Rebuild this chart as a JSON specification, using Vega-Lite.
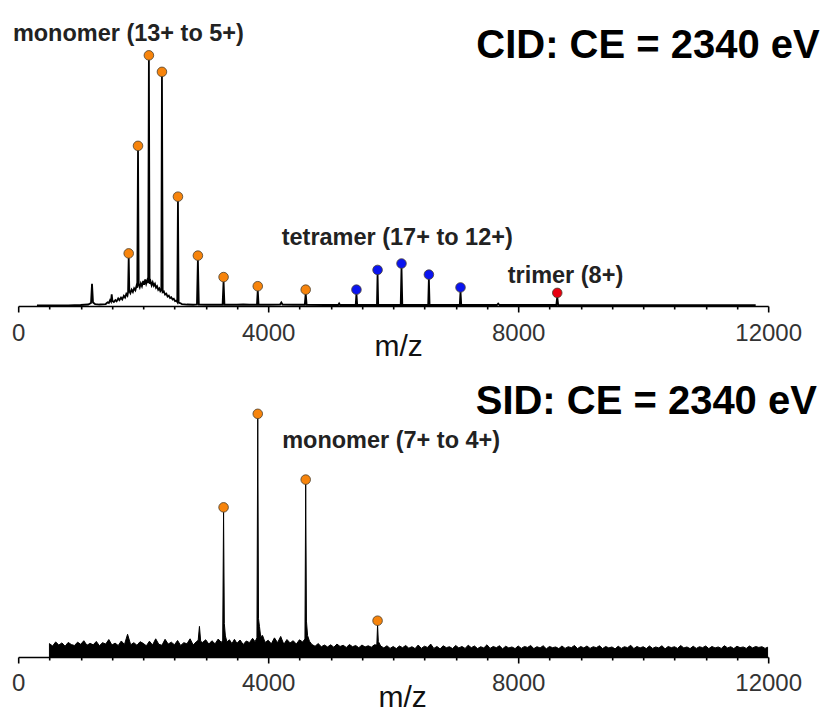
{
  "$schema": "https://vega.github.io/schema/vega-lite/v6.json",
  "padding": {"left": 11.2, "top": 10, "right": 2, "bottom": 0},
  "spacing": 9,
  "config": {
    "view": {"stroke": null},
    "font": "Liberation Sans",
    "axisX": {
      "values": [0, 2000, 4000, 6000, 8000, 10000, 12000],
      "format": "d",
      "labelExpr": "datum.value % 4000 === 0 ? datum.label : ''",
      "tickSize": {"condition": {"test": "datum.value % 4000 === 0", "value": 6}, "value": 3},
      "labelFontSize": 24,
      "labelFont": "Liberation Sans",
      "labelColor": "#333333",
      "labelPadding": 9,
      "labelFlush": false,
      "labelOverlap": false,
      "domainColor": "#000000",
      "domainWidth": 1.6,
      "tickColor": "#000000",
      "tickWidth": 1.6,
      "grid": false,
      "titleFontSize": 30,
      "titleFontWeight": "normal",
      "titleColor": "#111111",
      "titleBaseline": "alphabetic"
    }
  },
  "datasets": {
    "cidSpec": [
      {"mz": 300, "i": 0.2}, {"mz": 800, "i": 0.2}, {"mz": 1000, "i": 0.4}, {"mz": 1120, "i": 0.6},
      {"mz": 1165, "i": 1.2}, {"mz": 1181, "i": 9.0}, {"mz": 1197, "i": 1.4}, {"mz": 1230, "i": 0.8},
      {"mz": 1300, "i": 0.6}, {"mz": 1400, "i": 0.8}, {"mz": 1430, "i": 1.5}, {"mz": 1450, "i": 1.2},
      {"mz": 1470, "i": 2.4}, {"mz": 1485, "i": 1.8}, {"mz": 1496, "i": 4.7}, {"mz": 1508, "i": 2.0},
      {"mz": 1530, "i": 1.6}, {"mz": 1555, "i": 2.4}, {"mz": 1575, "i": 1.9}, {"mz": 1600, "i": 3.1},
      {"mz": 1620, "i": 2.4}, {"mz": 1645, "i": 3.4}, {"mz": 1665, "i": 2.7}, {"mz": 1690, "i": 4.1},
      {"mz": 1710, "i": 3.4}, {"mz": 1730, "i": 4.9}, {"mz": 1748, "i": 4.2}, {"mz": 1758, "i": 5.6},
      {"mz": 1768, "i": 19.7}, {"mz": 1778, "i": 6.1}, {"mz": 1795, "i": 5.2}, {"mz": 1815, "i": 6.6},
      {"mz": 1835, "i": 5.7}, {"mz": 1855, "i": 7.2}, {"mz": 1875, "i": 6.4}, {"mz": 1893, "i": 8.2},
      {"mz": 1905, "i": 7.4}, {"mz": 1917, "i": 63.3}, {"mz": 1928, "i": 8.8}, {"mz": 1945, "i": 7.6},
      {"mz": 1962, "i": 9.2}, {"mz": 1980, "i": 8.0}, {"mz": 2000, "i": 10.2}, {"mz": 2015, "i": 8.6},
      {"mz": 2032, "i": 10.8}, {"mz": 2048, "i": 9.0}, {"mz": 2065, "i": 10.4}, {"mz": 2080, "i": 9.4},
      {"mz": 2091, "i": 100}, {"mz": 2102, "i": 9.0}, {"mz": 2118, "i": 10.0}, {"mz": 2135, "i": 8.4},
      {"mz": 2152, "i": 9.6}, {"mz": 2170, "i": 8.2}, {"mz": 2188, "i": 9.0}, {"mz": 2205, "i": 7.4},
      {"mz": 2222, "i": 8.0}, {"mz": 2240, "i": 6.6}, {"mz": 2258, "i": 7.2}, {"mz": 2275, "i": 6.0},
      {"mz": 2290, "i": 6.4}, {"mz": 2300, "i": 93.3}, {"mz": 2312, "i": 5.6}, {"mz": 2330, "i": 5.9},
      {"mz": 2350, "i": 4.6}, {"mz": 2370, "i": 5.0}, {"mz": 2390, "i": 3.8}, {"mz": 2410, "i": 4.2},
      {"mz": 2430, "i": 3.2}, {"mz": 2450, "i": 3.5}, {"mz": 2470, "i": 2.6}, {"mz": 2490, "i": 2.9},
      {"mz": 2510, "i": 2.0}, {"mz": 2530, "i": 2.2}, {"mz": 2545, "i": 1.6}, {"mz": 2556, "i": 42.7},
      {"mz": 2567, "i": 1.4}, {"mz": 2590, "i": 1.2}, {"mz": 2620, "i": 0.8},
      {"mz": 2700, "i": 0.6}, {"mz": 2800, "i": 0.5}, {"mz": 2860, "i": 0.6}, {"mz": 2875, "i": 18.8},
      {"mz": 2890, "i": 0.6}, {"mz": 3000, "i": 0.5}, {"mz": 3100, "i": 0.5}, {"mz": 3270, "i": 0.5},
      {"mz": 3286, "i": 10.1}, {"mz": 3300, "i": 0.5}, {"mz": 3500, "i": 0.5}, {"mz": 3600, "i": 0.6},
      {"mz": 3700, "i": 0.5}, {"mz": 3820, "i": 0.5}, {"mz": 3833, "i": 6.4}, {"mz": 3846, "i": 0.5},
      {"mz": 4000, "i": 0.5}, {"mz": 4190, "i": 0.6}, {"mz": 4210, "i": 1.4}, {"mz": 4230, "i": 0.6},
      {"mz": 4400, "i": 0.5}, {"mz": 4585, "i": 0.5}, {"mz": 4600, "i": 5.0}, {"mz": 4615, "i": 0.5},
      {"mz": 4900, "i": 0.4}, {"mz": 5120, "i": 0.4}, {"mz": 5135, "i": 1.0}, {"mz": 5150, "i": 0.4},
      {"mz": 5400, "i": 0.4}, {"mz": 5412, "i": 5.0}, {"mz": 5424, "i": 0.4}, {"mz": 5740, "i": 0.4},
      {"mz": 5750, "i": 13.0}, {"mz": 5760, "i": 0.4}, {"mz": 6120, "i": 0.4}, {"mz": 6133, "i": 15.6},
      {"mz": 6146, "i": 0.4}, {"mz": 6560, "i": 0.4}, {"mz": 6571, "i": 11.1}, {"mz": 6582, "i": 0.4},
      {"mz": 7065, "i": 0.4}, {"mz": 7077, "i": 5.9}, {"mz": 7089, "i": 0.4}, {"mz": 7660, "i": 0.4},
      {"mz": 7680, "i": 1.0}, {"mz": 7700, "i": 0.4}, {"mz": 8610, "i": 0.4}, {"mz": 8625, "i": 3.7},
      {"mz": 8640, "i": 0.4}, {"mz": 9000, "i": 0.3}, {"mz": 11800, "i": 0.3}
    ],
    "cidPeaks": [
      {"mz": 1768, "i": 19.7, "species": "monomer"}, {"mz": 1917, "i": 63.3, "species": "monomer"},
      {"mz": 2091, "i": 100, "species": "monomer"}, {"mz": 2300, "i": 93.3, "species": "monomer"},
      {"mz": 2556, "i": 42.7, "species": "monomer"}, {"mz": 2875, "i": 18.8, "species": "monomer"},
      {"mz": 3286, "i": 10.1, "species": "monomer"}, {"mz": 3833, "i": 6.4, "species": "monomer"},
      {"mz": 4600, "i": 5.0, "species": "monomer"},
      {"mz": 5412, "i": 5.0, "species": "tetramer"}, {"mz": 5750, "i": 13.0, "species": "tetramer"},
      {"mz": 6133, "i": 15.6, "species": "tetramer"}, {"mz": 6571, "i": 11.1, "species": "tetramer"},
      {"mz": 7077, "i": 5.9, "species": "tetramer"},
      {"mz": 8625, "i": 3.7, "species": "trimer"}
    ],
    "sidSpec": [
      {"mz": 500, "i": 5.6}, {"mz": 550, "i": 4.6}, {"mz": 600, "i": 6.3}, {"mz": 650, "i": 5.0}, {"mz": 700, "i": 5.9},
      {"mz": 750, "i": 4.5}, {"mz": 800, "i": 6.1}, {"mz": 850, "i": 5.2}, {"mz": 900, "i": 4.8}, {"mz": 950, "i": 6.2},
      {"mz": 1000, "i": 5.3}, {"mz": 1050, "i": 6.8}, {"mz": 1100, "i": 4.9}, {"mz": 1150, "i": 5.7}, {"mz": 1200, "i": 5.1},
      {"mz": 1250, "i": 6.5}, {"mz": 1300, "i": 4.7}, {"mz": 1350, "i": 6.0}, {"mz": 1400, "i": 5.4}, {"mz": 1450, "i": 7.3},
      {"mz": 1500, "i": 5.0}, {"mz": 1550, "i": 5.8}, {"mz": 1600, "i": 4.8}, {"mz": 1650, "i": 6.7}, {"mz": 1700, "i": 5.2},
      {"mz": 1750, "i": 9.5}, {"mz": 1800, "i": 5.1}, {"mz": 1850, "i": 6.0}, {"mz": 1900, "i": 4.9}, {"mz": 1950, "i": 6.4},
      {"mz": 2000, "i": 5.7}, {"mz": 2050, "i": 4.7}, {"mz": 2100, "i": 6.6}, {"mz": 2150, "i": 5.0}, {"mz": 2200, "i": 7.6},
      {"mz": 2250, "i": 5.3}, {"mz": 2300, "i": 4.9}, {"mz": 2350, "i": 7.4}, {"mz": 2400, "i": 5.4}, {"mz": 2450, "i": 6.2},
      {"mz": 2500, "i": 5.1}, {"mz": 2550, "i": 6.9}, {"mz": 2600, "i": 4.8}, {"mz": 2650, "i": 6.0}, {"mz": 2700, "i": 5.5},
      {"mz": 2750, "i": 7.6}, {"mz": 2800, "i": 5.0}, {"mz": 2850, "i": 6.4}, {"mz": 2880, "i": 7.0}, {"mz": 2900, "i": 12.8},
      {"mz": 2920, "i": 6.5}, {"mz": 2950, "i": 6.1}, {"mz": 3000, "i": 7.2}, {"mz": 3050, "i": 5.4}, {"mz": 3100, "i": 6.8},
      {"mz": 3150, "i": 5.5}, {"mz": 3200, "i": 7.5}, {"mz": 3250, "i": 6.1}, {"mz": 3272, "i": 7.0}, {"mz": 3286, "i": 60.9},
      {"mz": 3298, "i": 14.0}, {"mz": 3315, "i": 8.8}, {"mz": 3340, "i": 6.3}, {"mz": 3380, "i": 7.2}, {"mz": 3420, "i": 5.6},
      {"mz": 3460, "i": 7.4}, {"mz": 3500, "i": 5.7}, {"mz": 3550, "i": 7.1}, {"mz": 3600, "i": 5.2}, {"mz": 3650, "i": 6.7},
      {"mz": 3700, "i": 6.0}, {"mz": 3750, "i": 7.8}, {"mz": 3790, "i": 6.4}, {"mz": 3820, "i": 8.0}, {"mz": 3833, "i": 100},
      {"mz": 3845, "i": 16.0}, {"mz": 3860, "i": 12.8}, {"mz": 3880, "i": 8.5}, {"mz": 3910, "i": 9.0}, {"mz": 3950, "i": 6.1},
      {"mz": 4000, "i": 7.0}, {"mz": 4050, "i": 5.5}, {"mz": 4100, "i": 8.0}, {"mz": 4150, "i": 6.0}, {"mz": 4200, "i": 8.6},
      {"mz": 4250, "i": 5.3}, {"mz": 4300, "i": 7.3}, {"mz": 4350, "i": 5.9}, {"mz": 4400, "i": 6.8}, {"mz": 4450, "i": 5.4},
      {"mz": 4500, "i": 7.2}, {"mz": 4550, "i": 6.3}, {"mz": 4588, "i": 7.5}, {"mz": 4600, "i": 72.5}, {"mz": 4612, "i": 15.0},
      {"mz": 4630, "i": 9.0}, {"mz": 4660, "i": 6.6}, {"mz": 4700, "i": 5.2}, {"mz": 4750, "i": 4.5}, {"mz": 4800, "i": 5.6},
      {"mz": 4850, "i": 4.3}, {"mz": 4900, "i": 5.0}, {"mz": 4950, "i": 4.2}, {"mz": 5000, "i": 5.1}, {"mz": 5050, "i": 4.1},
      {"mz": 5100, "i": 5.4}, {"mz": 5150, "i": 4.4}, {"mz": 5200, "i": 4.9}, {"mz": 5250, "i": 4.0}, {"mz": 5300, "i": 5.2},
      {"mz": 5350, "i": 4.3}, {"mz": 5400, "i": 4.8}, {"mz": 5450, "i": 3.9}, {"mz": 5500, "i": 5.0}, {"mz": 5550, "i": 4.2},
      {"mz": 5600, "i": 4.7}, {"mz": 5650, "i": 4.1}, {"mz": 5700, "i": 5.1}, {"mz": 5738, "i": 5.0}, {"mz": 5750, "i": 13.5},
      {"mz": 5762, "i": 6.5}, {"mz": 5800, "i": 4.6}, {"mz": 5850, "i": 3.8}, {"mz": 5900, "i": 4.7}, {"mz": 5950, "i": 3.6},
      {"mz": 6000, "i": 4.4}, {"mz": 6050, "i": 3.5}, {"mz": 6100, "i": 4.6}, {"mz": 6150, "i": 3.9}, {"mz": 6200, "i": 4.8},
      {"mz": 6250, "i": 3.7}, {"mz": 6300, "i": 4.3}, {"mz": 6350, "i": 3.5}, {"mz": 6400, "i": 5.0}, {"mz": 6450, "i": 3.6},
      {"mz": 6500, "i": 4.5}, {"mz": 6550, "i": 4.0}, {"mz": 6600, "i": 5.4}, {"mz": 6650, "i": 3.6}, {"mz": 6700, "i": 4.4},
      {"mz": 6750, "i": 3.4}, {"mz": 6800, "i": 4.7}, {"mz": 6850, "i": 3.9}, {"mz": 6900, "i": 4.3}, {"mz": 6950, "i": 3.5},
      {"mz": 7000, "i": 4.8}, {"mz": 7050, "i": 3.8}, {"mz": 7100, "i": 4.4}, {"mz": 7150, "i": 3.6}, {"mz": 7200, "i": 4.9},
      {"mz": 7250, "i": 3.9}, {"mz": 7300, "i": 4.6}, {"mz": 7350, "i": 3.5}, {"mz": 7400, "i": 4.3}, {"mz": 7450, "i": 3.8},
      {"mz": 7500, "i": 5.1}, {"mz": 7550, "i": 3.6}, {"mz": 7600, "i": 4.4}, {"mz": 7650, "i": 3.9}, {"mz": 7700, "i": 4.7},
      {"mz": 7750, "i": 3.4}, {"mz": 7800, "i": 4.5}, {"mz": 7850, "i": 3.8}, {"mz": 7900, "i": 4.2}, {"mz": 7950, "i": 3.5},
      {"mz": 8000, "i": 4.6}, {"mz": 8050, "i": 3.6}, {"mz": 8100, "i": 4.4}, {"mz": 8150, "i": 4.0}, {"mz": 8200, "i": 4.8},
      {"mz": 8250, "i": 3.5}, {"mz": 8300, "i": 4.3}, {"mz": 8350, "i": 3.8}, {"mz": 8400, "i": 4.7}, {"mz": 8450, "i": 3.4},
      {"mz": 8500, "i": 4.4}, {"mz": 8550, "i": 3.9}, {"mz": 8600, "i": 4.2}, {"mz": 8650, "i": 3.5}, {"mz": 8700, "i": 4.6},
      {"mz": 8750, "i": 3.6}, {"mz": 8800, "i": 4.3}, {"mz": 8850, "i": 3.9}, {"mz": 8900, "i": 4.8}, {"mz": 8950, "i": 3.5},
      {"mz": 9000, "i": 4.4}, {"mz": 9050, "i": 3.8}, {"mz": 9100, "i": 4.6}, {"mz": 9150, "i": 3.6}, {"mz": 9200, "i": 4.3},
      {"mz": 9250, "i": 3.9}, {"mz": 9300, "i": 4.7}, {"mz": 9350, "i": 3.5}, {"mz": 9400, "i": 4.4}, {"mz": 9450, "i": 3.8},
      {"mz": 9500, "i": 4.2}, {"mz": 9550, "i": 3.4}, {"mz": 9600, "i": 4.5}, {"mz": 9650, "i": 3.6}, {"mz": 9700, "i": 4.3},
      {"mz": 9750, "i": 3.9}, {"mz": 9800, "i": 4.9}, {"mz": 9850, "i": 3.5}, {"mz": 9900, "i": 4.4}, {"mz": 9950, "i": 3.8},
      {"mz": 10000, "i": 4.3}, {"mz": 10050, "i": 3.5}, {"mz": 10100, "i": 4.6}, {"mz": 10150, "i": 3.6}, {"mz": 10200, "i": 4.2},
      {"mz": 10250, "i": 3.8}, {"mz": 10300, "i": 4.7}, {"mz": 10350, "i": 3.4}, {"mz": 10400, "i": 4.4}, {"mz": 10450, "i": 3.9},
      {"mz": 10500, "i": 4.3}, {"mz": 10550, "i": 3.6}, {"mz": 10600, "i": 4.8}, {"mz": 10650, "i": 3.8}, {"mz": 10700, "i": 4.2},
      {"mz": 10750, "i": 3.5}, {"mz": 10800, "i": 4.5}, {"mz": 10850, "i": 3.6}, {"mz": 10900, "i": 4.3}, {"mz": 10950, "i": 3.9},
      {"mz": 11000, "i": 4.6}, {"mz": 11050, "i": 3.5}, {"mz": 11100, "i": 4.4}, {"mz": 11150, "i": 3.8}, {"mz": 11200, "i": 4.2},
      {"mz": 11250, "i": 3.6}, {"mz": 11300, "i": 4.7}, {"mz": 11350, "i": 3.8}, {"mz": 11400, "i": 4.3}, {"mz": 11450, "i": 3.5},
      {"mz": 11500, "i": 4.5}, {"mz": 11550, "i": 3.9}, {"mz": 11600, "i": 4.2}, {"mz": 11650, "i": 3.6}, {"mz": 11700, "i": 4.6},
      {"mz": 11750, "i": 3.8}, {"mz": 11800, "i": 4.4}, {"mz": 11850, "i": 4.0}, {"mz": 11900, "i": 4.3}, {"mz": 11950, "i": 3.6},
      {"mz": 11990, "i": 4.1}
    ],
    "sidPeaks": [
      {"mz": 3286, "i": 60.9, "species": "monomer"}, {"mz": 3833, "i": 100, "species": "monomer"},
      {"mz": 4600, "i": 72.5, "species": "monomer"}, {"mz": 5750, "i": 13.5, "species": "monomer"}
    ]
  },
  "vconcat": [
    {
      "width": 750,
      "height": 296,
      "layer": [
        {
          "data": {"name": "cidSpec"},
          "mark": {"type": "line", "color": "#000000", "strokeWidth": 1.8},
          "encoding": {
            "x": {"field": "mz", "type": "quantitative", "scale": {"domain": [0, 12000]}, "axis": {"title": "m/z", "titleY": 49, "titleX": 380}},
            "y": {"field": "i", "type": "quantitative", "scale": {"domain": [0, 116.2]}, "axis": null}
          }
        },
        {
          "data": {"name": "cidPeaks"},
          "mark": {"type": "point", "filled": true, "size": 92, "yOffset": -4, "stroke": "#4a4030", "strokeWidth": 0.8, "opacity": 1},
          "encoding": {
            "x": {"field": "mz", "type": "quantitative"},
            "y": {"field": "i", "type": "quantitative"},
            "color": {"field": "species", "type": "nominal", "scale": {"domain": ["monomer", "tetramer", "trimer"], "range": ["#f7840c", "#0a14f0", "#e80010"]}, "legend": null}
          }
        },
        {
          "data": {"values": [{"label": "CID: CE = 2340 eV"}]},
          "mark": {"type": "text", "align": "right", "baseline": "alphabetic", "fontSize": 40, "fontWeight": "bold", "color": "#000000"},
          "encoding": {"x": {"datum": 12824, "type": "quantitative"}, "y": {"datum": 100.7, "type": "quantitative"}, "text": {"field": "label"}}
        },
        {
          "data": {"values": [{"label": "monomer (13+ to 5+)"}]},
          "mark": {"type": "text", "align": "left", "baseline": "alphabetic", "fontSize": 23.5, "fontWeight": "bold", "color": "#222222"},
          "encoding": {"x": {"datum": -85, "type": "quantitative"}, "y": {"datum": 107.5, "type": "quantitative"}, "text": {"field": "label"}}
        },
        {
          "data": {"values": [{"label": "tetramer (17+ to 12+)"}]},
          "mark": {"type": "text", "align": "left", "baseline": "alphabetic", "fontSize": 23.5, "fontWeight": "bold", "color": "#222222"},
          "encoding": {"x": {"datum": 4216, "type": "quantitative"}, "y": {"datum": 24.6, "type": "quantitative"}, "text": {"field": "label"}}
        },
        {
          "data": {"values": [{"label": "trimer (8+)"}]},
          "mark": {"type": "text", "align": "left", "baseline": "alphabetic", "fontSize": 23.5, "fontWeight": "bold", "color": "#222222"},
          "encoding": {"x": {"datum": 7832, "type": "quantitative"}, "y": {"datum": 9.5, "type": "quantitative"}, "text": {"field": "label"}}
        }
      ]
    },
    {
      "width": 750,
      "height": 287,
      "layer": [
        {
          "data": {"name": "sidSpec"},
          "mark": {"type": "area", "color": "#000000", "stroke": "#000000", "strokeWidth": 1, "opacity": 1},
          "encoding": {
            "x": {"field": "mz", "type": "quantitative", "scale": {"domain": [0, 12000]}, "axis": {"title": "m/z", "titleY": 50, "titleX": 384}},
            "y": {"field": "i", "type": "quantitative", "scale": {"domain": [0, 118.7]}, "axis": null}
          }
        },
        {
          "data": {"name": "sidPeaks"},
          "mark": {"type": "point", "filled": true, "size": 92, "yOffset": -4, "stroke": "#4a4030", "strokeWidth": 0.8, "opacity": 1},
          "encoding": {
            "x": {"field": "mz", "type": "quantitative"},
            "y": {"field": "i", "type": "quantitative"},
            "color": {"field": "species", "type": "nominal", "scale": {"domain": ["monomer"], "range": ["#f7840c"]}, "legend": null}
          }
        },
        {
          "data": {"values": [{"label": "SID: CE = 2340 eV"}]},
          "mark": {"type": "text", "align": "right", "baseline": "alphabetic", "fontSize": 40, "fontWeight": "bold", "color": "#000000"},
          "encoding": {"x": {"datum": 12779, "type": "quantitative"}, "y": {"datum": 101.8, "type": "quantitative"}, "text": {"field": "label"}}
        },
        {
          "data": {"values": [{"label": "monomer (7+ to 4+)"}]},
          "mark": {"type": "text", "align": "left", "baseline": "alphabetic", "fontSize": 23.5, "fontWeight": "bold", "color": "#222222"},
          "encoding": {"x": {"datum": 4224, "type": "quantitative"}, "y": {"datum": 87.3, "type": "quantitative"}, "text": {"field": "label"}}
        }
      ]
    }
  ]
}
